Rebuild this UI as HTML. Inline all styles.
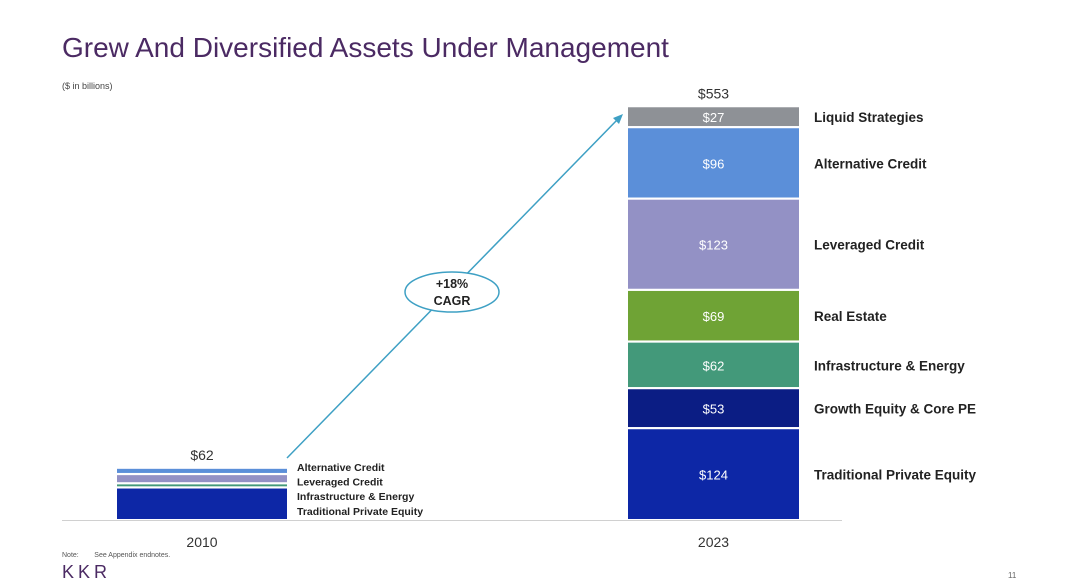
<!DOCTYPE html>
<html><head><meta charset="utf-8">
<style>
body{margin:0;background:#fff;font-family:"Liberation Sans",sans-serif;}
#wrap{position:relative;width:1080px;height:583px;overflow:hidden;}
.t{position:absolute;white-space:nowrap;}
</style></head><body>
<div id="wrap">
<div class="t" style="left:62px;top:32px;font-size:28px;color:#4b2a63;">Grew And Diversified Assets Under Management</div>
<div class="t" style="left:62px;top:81px;font-size:9px;color:#444;">($ in billions)</div>
<div class="t" style="left:62px;top:552px;font-size:7px;color:#555;">Note:&nbsp;&nbsp;&nbsp;&nbsp;&nbsp;&nbsp;&nbsp;&nbsp;See Appendix endnotes.</div>
<div class="t" style="left:62px;top:562px;font-size:18px;color:#4b2a63;letter-spacing:4px;">KKR</div>
<div class="t" style="left:1008px;top:571px;font-size:8px;color:#666;">11</div>
<svg id="chart" width="1080" height="583" style="position:absolute;left:0;top:0"></svg>
</div>
<script>
const years=["2010","2023"];
const totals=[62,553];
const cats2010=["Traditional Private Equity","Infrastructure & Energy","Leveraged Credit","Alternative Credit"];
const vals2010=[43,4,11,7];
const cats2023=["Traditional Private Equity","Growth Equity & Core PE","Infrastructure & Energy","Real Estate","Leveraged Credit","Alternative Credit","Liquid Strategies"];
const vals2023=[124,53,62,69,123,96,27];
const colors={"Traditional Private Equity":"#0d27a6","Growth Equity & Core PE":"#0b1d84","Infrastructure & Energy":"#43997a","Real Estate":"#6fa335","Leveraged Credit":"#9391c5","Alternative Credit":"#5b8fd9","Liquid Strategies":"#8e9196"};
const cagr="+18%";
const NS="http://www.w3.org/2000/svg";
const svg=document.getElementById('chart');
const base=520,k=0.732;
function y(v){return base-v*k;}
const barX=[117,628],barW=[170,171];
function mk(tag,attrs){const e=document.createElementNS(NS,tag);for(const a in attrs)e.setAttribute(a,attrs[a]);svg.appendChild(e);return e;}
// baseline
const bl=mk('line',{x1:62,x2:842,y1:520.5,y2:520.5,stroke:'#d0d0d0','stroke-width':1});


function drawBar(i,cats,vals,inLabels){
  let cum=0;let top=base;
  cats.forEach((c,j)=>{
    const y0=y(cum)-j*1.2, y1=y(cum+vals[j])-j*1.2;
    const r=mk('rect',{x:barX[i],y:y1,width:barW[i],height:Math.max(1,y0-y1-1),fill:colors[c]});
    
    
    if(inLabels){
      const t=mk('text',{x:barX[i]+barW[i]/2,y:(y0+y1)/2+5,fill:'#fff','font-size':13,'text-anchor':'middle','font-family':'Liberation Sans'});
      t.textContent='$'+vals[j];
      
      
      const l=mk('text',{x:814,y:(y0+y1)/2+5,fill:'#222','font-size':13.5,'font-weight':'bold','font-family':'Liberation Sans'});
      l.textContent=c;
      
      
    }
    cum+=vals[j];top=y1;
  });
  const tl=mk('text',{x:barX[i]+barW[i]/2,y:top-9,fill:'#333','font-size':14,'text-anchor':'middle','font-family':'Liberation Sans'});
  tl.textContent='$'+totals[i];
  
  
  const yl=mk('text',{x:barX[i]+barW[i]/2,y:547,fill:'#333','font-size':14,'text-anchor':'middle','font-family':'Liberation Sans'});
  yl.textContent=years[i];
  
  
  return top;
}
drawBar(0,cats2010,vals2010,false);
drawBar(1,cats2023,vals2023,true);
// 2010 legend list
[...cats2010].reverse().forEach((c,j)=>{
  const t=mk('text',{x:297,y:471+j*14.6,fill:'#222','font-size':10.5,'font-weight':'bold','font-family':'Liberation Sans'});
  t.textContent=c;
  
  
});
// arrow
const ar=mk('line',{x1:287,y1:458,x2:618,y2:119,stroke:'#3ea0c4','stroke-width':1.5});


const ah=mk('polygon',{points:'623,114 613,118 619,124',fill:'#3ea0c4'});


const el=mk('ellipse',{cx:452,cy:292,rx:47,ry:20,fill:'#fff',stroke:'#3ea0c4','stroke-width':1.5});


const c1=mk('text',{x:452,y:288,'font-size':12.5,'font-weight':'bold','text-anchor':'middle',fill:'#222','font-family':'Liberation Sans'});
c1.textContent=cagr;


const c2=mk('text',{x:452,y:305,'font-size':12.5,'font-weight':'bold','text-anchor':'middle',fill:'#222','font-family':'Liberation Sans'});
c2.textContent='CAGR';


</script>
</body></html>
